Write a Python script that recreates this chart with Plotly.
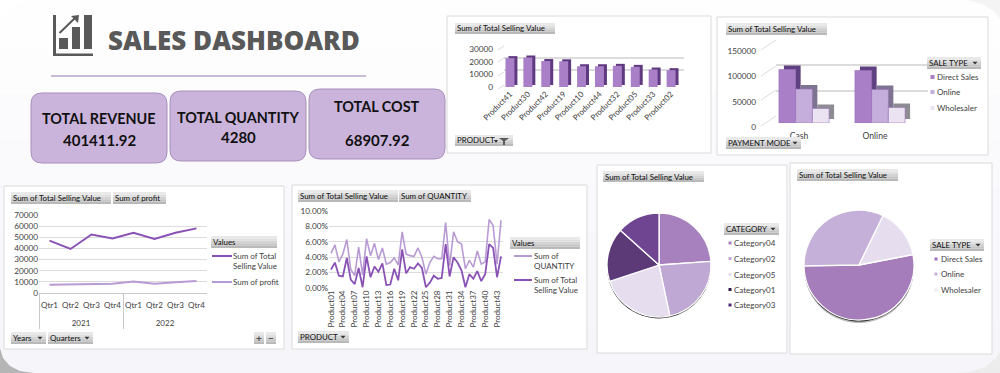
import plotly.graph_objects as go

W, H = 1000, 373

# ---------- data ----------
top_products = ["Product41", "Product30", "Product42", "Product19", "Product10",
                "Product44", "Product32", "Product05", "Product33", "Product02"]
top_values = [22800, 23300, 20500, 20300, 16400, 16400, 16700, 15900, 13800, 13300]

payment_modes = ["Cash", "Online"]
sale_types = ["Direct Sales", "Online", "Wholesaler"]
direct_sales = [107000, 105000]
online_sales = [68000, 67000]
wholesale_sales = [29000, 31000]

years = ["2021", "2021", "2021", "2021", "2022", "2022", "2022", "2022"]
quarters = ["Qtr1", "Qtr2", "Qtr3", "Qtr4", "Qtr1", "Qtr2", "Qtr3", "Qtr4"]
quarter_selling = [47000, 39500, 52500, 49000, 54000, 48500, 54000, 58000]
quarter_profit = [7500, 7700, 8300, 8300, 10300, 8300, 9700, 10800]

products = ["Product%02d" % i for i in range(1, 45)]
product_ticks = ["Product01", "Product04", "Product07", "Product10", "Product13",
                 "Product16", "Product19", "Product22", "Product25", "Product28",
                 "Product31", "Product34", "Product37", "Product40", "Product43"]
quantity_pct = [4.5, 5.6, 3.4, 4.4, 6.3, 2.4, 1.6, 5.3, 1.7, 6.4, 4.2, 5.8, 3.7, 5.2, 3.1,
                3.3, 3.9, 3.0, 7.3, 4.4, 4.2, 4.1, 5.2, 4.0, 1.8, 3.3, 4.1, 3.8, 3.8, 8.5,
                2.9, 7.3, 6.0, 5.7, 2.5, 3.6, 2.7, 4.8, 3.1, 3.4, 8.9, 8.1, 3.1, 8.8]
selling_pct = [2.4, 3.3, 1.6, 1.5, 3.9, 1.1, 0.5, 2.6, 0.1, 4.1, 1.4, 2.8, 2.1, 3.2, 0.4,
               0.45, 2.5, 1.0, 5.0, 1.9, 2.7, 2.5, 3.2, 2.6, 0.1, 0.7, 1.6, 1.2, 1.3, 5.7,
               1.5, 4.0, 3.3, 2.3, 0.1, 1.8, 1.2, 2.2, 0.9, 1.8, 5.7, 5.2, 1.4, 4.1]

categories = ["Category04", "Category02", "Category05", "Category01", "Category03"]
category_values = [95900, 91400, 93200, 67300, 53500]
sale_type_values = [212000, 130400, 59000]

# ---------- styling ----------
FONT = "Lato"
SMALL = "Lato"
TXT = "#404040"
P_MID = "#a97fc7"
P_LIGHT = "#c5aedb"
P_PALE = "#ebe2f2"
GRID = "#dcdcdc"


def X(px):
    return px / W


def Y(py):
    return 1 - py / H


shapes, annots, axes = [], [], {}
fig = go.Figure()


def rect(x0, y0, x1, y1, fill, line=None, layer="below", lw=1):
    shapes.append(dict(type="rect", xref="paper", yref="paper", x0=X(x0), x1=X(x1),
                       y0=Y(y0), y1=Y(y1), fillcolor=fill, layer=layer,
                       line=dict(color=line or fill, width=lw if line else 0)))


def seg(x0, y0, x1, y1, color, lw=1, layer="below"):
    shapes.append(dict(type="line", xref="paper", yref="paper", x0=X(x0), x1=X(x1),
                       y0=Y(y0), y1=Y(y1), layer=layer, line=dict(color=color, width=lw)))


def poly(path_pts, fill, layer="above"):
    d = "M" + " L".join("%.4f,%.4f" % (X(a), Y(b)) for a, b in path_pts) + " Z"
    shapes.append(dict(type="path", xref="paper", yref="paper", path=d, fillcolor=fill,
                       layer=layer, line=dict(width=0)))


def text(x, y, s, size=8, color=TXT, anchor="left", bold=False, family=SMALL, weight=None):
    font = dict(family=family, size=size, color=color)
    if weight:
        font["weight"] = weight
    annots.append(dict(xref="paper", yref="paper", x=X(x), y=Y(y), text="<b>%s</b>" % s if bold else s,
                       showarrow=False, xanchor=anchor, yanchor="middle", borderpad=0, borderwidth=0,
                       font=font))


def button(x0, y0, x1, y1, label, arrow=False, size=7.9):
    bands = ["#e9e9e9", "#dfdfdf", "#d3d3d3", "#c6c6c6", "#b9b9b9"]
    h = (y1 - y0) / len(bands)
    for i, c in enumerate(bands):
        rect(x0, y0 + i * h, x1, y0 + (i + 1) * h, c, layer="above")
    if label:
        text(x0 + 2, (y0 + y1) / 2, label, size=size, color="#111111")
    if arrow:
        cx, cy = x1 - 6, (y0 + y1) / 2
        poly([(cx - 2.5, cy - 1.2), (cx + 2.5, cy - 1.2), (cx, cy + 1.5)], "#333333")


def rounded(x0, y0, x1, y1, r, fill, line):
    k = r
    d = ("M%.4f,%.4f L%.4f,%.4f Q%.4f,%.4f %.4f,%.4f L%.4f,%.4f Q%.4f,%.4f %.4f,%.4f "
         "L%.4f,%.4f Q%.4f,%.4f %.4f,%.4f L%.4f,%.4f Q%.4f,%.4f %.4f,%.4f Z") % (
        X(x0 + k), Y(y0), X(x1 - k), Y(y0), X(x1), Y(y0), X(x1), Y(y0 + k),
        X(x1), Y(y1 - k), X(x1), Y(y1), X(x1 - k), Y(y1),
        X(x0 + k), Y(y1), X(x0), Y(y1), X(x0), Y(y1 - k),
        X(x0), Y(y0 + k), X(x0), Y(y0), X(x0 + k), Y(y0))
    shapes.append(dict(type="path", xref="paper", yref="paper", path=d, fillcolor=fill,
                       layer="below", line=dict(color=line, width=1)))


def panel(x0, y0, x1, y1):
    rect(x0, y0, x1, y1, "#ffffff", "#dadada")


def add_axes(n, xdom, ydom, xkw=None, ykw=None):
    """xdom/ydom are pixel extents; ydom = (top, bottom)."""
    sfx = "" if n == 1 else str(n)
    ax = dict(domain=[X(xdom[0]), X(xdom[1])], anchor="y" + sfx, showgrid=False, zeroline=False,
              showline=False, ticks="", showticklabels=False, fixedrange=True, automargin=False,
              tickfont=dict(family=SMALL, size=8, color=TXT))
    ay = dict(domain=[Y(ydom[1]), Y(ydom[0])], anchor="x" + sfx, showgrid=False, zeroline=False,
              showline=False, ticks="", showticklabels=False, fixedrange=True, automargin=False,
              tickformat="d", tickfont=dict(family=SMALL, size=8.2, color=TXT))
    ax.update(xkw or {})
    ay.update(ykw or {})
    axes["xaxis" + sfx] = ax
    axes["yaxis" + sfx] = ay
    return "x" + sfx, "y" + sfx


# ---------- page background ----------
bg_steps = ["#fefefe", "#fdfdfe", "#fbfbfd", "#fafafc", "#f9f8fc", "#f8f7fb", "#f7f6fb", "#f6f5fa"]
step = H / len(bg_steps)
for i, c in enumerate(bg_steps):
    rect(0, i * step, W, (i + 1) * step + 1, c)
poly([(0, 373), (0, 348), (3, 358), (10, 366), (20, 371), (34, 373)], "#b5b5b5", layer="below")
poly([(1000, 373), (1000, 352), (995, 359), (985, 367), (970, 372), (955, 373)], "#ececec", layer="below")
poly([(0, 0), (33, 0), (18, 4), (7, 10), (0, 19)], "#ffffff", layer="below")
poly([(1000, 0), (968, 0), (982, 4), (992, 10), (1000, 18)], "#f4f4f4", layer="below")

# ---------- header ----------
rect(53, 15, 56, 56, "#595959")
rect(53, 53.5, 93, 56, "#595959")
rect(59, 38, 68, 49, "#595959")
rect(72, 27, 80, 49, "#595959")
rect(84, 15, 92, 49, "#595959")
seg(59.5, 33, 75, 18, "#595959", 2)
poly([(71, 16), (79, 15), (78, 23)], "#595959", layer="below")
text(108, 40, "SALES DASHBOARD", size=26, color="#595959", family="Open Sans", weight=800)
seg(51, 76, 366, 76, "#b9a4cf", 1.5)

# ---------- KPI cards ----------
kpis = [(31, 93, 167, 163, "TOTAL REVENUE", 118, "401411.92", 140),
        (170, 91, 306, 161, "TOTAL QUANTITY", 117, "4280", 137),
        (309, 89, 445, 159, "TOTAL COST", 107, "68907.92", 140)]
for x0, y0, x1, y1, label, ly, value, vy in kpis:
    rounded(x0, y0, x1, y1, 11, "#cbb4db", "#a890ba")
    text((x0 + x1) / 2, ly, label, size=14.4, color="#111111", anchor="center", bold=True, family=FONT)
    text((x0 + x1) / 2, vy, value, size=15, color="#111111", anchor="center", bold=True, family=FONT)

# ---------- panels ----------
panel(447, 16, 711, 153)
panel(717, 17, 988, 155)
panel(4, 186, 284, 349)
panel(292, 185, 587, 349)
panel(597, 165, 787, 353)
panel(790, 163, 992, 354)

# ---------- chart 1: top products (pseudo 3D columns) ----------
yr1 = dict(range=[0, 30000], tickvals=[0, 10000, 20000, 30000])
xa, ya = add_axes(1, (504, 684), (45, 83), ykw=dict(yr1, showgrid=True, gridcolor=GRID, gridwidth=1.5))
fig.add_trace(go.Scatter(x=top_products, y=top_values, mode="lines", opacity=0, xaxis=xa, yaxis=ya,
                         hoverinfo="skip", showlegend=False))
xa, ya = add_axes(2, (504, 683), (47, 85), ykw=yr1)
fig.add_trace(go.Bar(x=top_products, y=top_values, marker=dict(color="#5f3a80", line=dict(width=0)),
                     xaxis=xa, yaxis=ya, showlegend=False, width=0.5))
xa, ya = add_axes(3, (501, 680), (49, 87),
                  xkw=dict(showticklabels=True, tickangle=-45),
                  ykw=dict(yr1, showticklabels=True, anchor="free", position=X(493)))
fig.add_trace(go.Bar(x=top_products, y=top_values, marker=dict(color=P_MID, line=dict(width=0)),
                     xaxis=xa, yaxis=ya, showlegend=False, width=0.5, name="Sum of Total Selling Value"))
button(455, 23, 555, 34, "Sum of Total Selling Value")
button(455, 135, 513, 146, "PRODUCT")
poly([(499, 138), (509, 138), (505, 141), (505, 145), (503, 145), (503, 141)], "#5a5a5a")
poly([(494, 140), (498, 140), (496, 143)], "#333333")
for py in (85, 72, 58, 46):
    seg(498, py + 4, 504, py, GRID, 1)

# ---------- chart 2: payment mode (pseudo 3D grouped columns) ----------
yr2 = dict(range=[0, 150000], tickvals=[0, 50000, 100000, 150000])
groups = [("Direct Sales", direct_sales, P_MID, "#5f4080"),
          ("Online", online_sales, P_LIGHT, "#7e7390"),
          ("Wholesaler", wholesale_sales, P_PALE, "#8c8c92")]
xa, ya = add_axes(4, (776, 928), (40, 116), ykw=dict(yr2, showgrid=True, gridcolor=GRID, gridwidth=1.5))
fig.add_trace(go.Scatter(x=payment_modes, y=direct_sales, mode="lines", opacity=0, xaxis=xa, yaxis=ya,
                         hoverinfo="skip", showlegend=False))
xa, ya = add_axes(5, (771, 923), (44, 119), ykw=yr2)
for name, vals, front, side in groups:
    fig.add_trace(go.Bar(x=payment_modes, y=vals, marker=dict(color=side, line=dict(width=0)),
                         xaxis=xa, yaxis=ya, showlegend=False))
xa, ya = add_axes(6, (766, 918), (48, 123), ykw=yr2)
for name, vals, front, side in groups:
    fig.add_trace(go.Bar(x=payment_modes, y=vals, name=name, xaxis=xa, yaxis=ya, showlegend=False,
                         marker=dict(color=front, line=dict(width=0.6, color="#9a72ba"))))
xa, ya = add_axes(7, (761, 913), (51, 127),
                  xkw=dict(range=[-0.5, 1.5], showticklabels=True, ticklabelstandoff=2,
                           tickfont=dict(family=SMALL, size=8.6, color=TXT)),
                  ykw=dict(yr2, showticklabels=True, anchor="free", position=X(756)))
fig.add_trace(go.Scatter(x=payment_modes, y=direct_sales, mode="lines", opacity=0, xaxis=xa, yaxis=ya,
                         hoverinfo="skip", showlegend=False))
button(726, 23, 827, 35, "Sum of Total Selling Value")
button(927, 57, 981, 69, "SALE TYPE", arrow=True)
button(726, 137, 801, 149, "PAYMENT MODE", arrow=True)
for (name, vals, front, side), py in zip(groups, (77, 92, 108)):
    rect(930.5, py - 2, 934.5, py + 2, front)
    text(937, py, name)
for py in (116, 90, 66, 40):
    seg(761, py + 10, 776, py, GRID, 1)

# ---------- chart 3: quarterly lines ----------
xa, ya = add_axes(8, (39, 207), (215, 293),
                  xkw=dict(type="multicategory", range=[-0.5, 7.5], showticklabels=True, showdividers=True,
                           dividercolor="#c9c9c9", dividerwidth=1, showline=True, linecolor="#c9c9c9",
                           tickangle=0, ticklabelstandoff=4),
                  ykw=dict(range=[0, 70000], dtick=10000, showgrid=True, gridcolor=GRID, gridwidth=1,
                           showticklabels=True))
xm = [["<br>" + y for y in years], quarters]
fig.add_trace(go.Scatter(x=xm, y=quarter_selling, mode="lines", name="Sum of Total Selling Value",
                         line=dict(color="#8a52b5", width=2), xaxis=xa, yaxis=ya, showlegend=False))
fig.add_trace(go.Scatter(x=xm, y=quarter_profit, mode="lines", name="Sum of profit",
                         line=dict(color="#b99bd4", width=2), xaxis=xa, yaxis=ya, showlegend=False))
button(11, 192, 111, 204, "Sum of Total Selling Value")
button(113, 192, 166, 204, "Sum of profit")
button(211, 236, 277, 248, "Values")
seg(212, 256, 232, 256, "#8a52b5", 2)
text(233, 256, "Sum of Total")
text(233, 266, "Selling Value")
seg(212, 282, 232, 282, "#b99bd4", 2)
text(233, 282, "Sum of profit")
button(11, 332, 46, 344, "Years", arrow=True)
button(48, 332, 93, 344, "Quarters", arrow=True)
button(254, 332, 264, 344, "")
button(266, 332, 276, 344, "")
text(259, 338, "+", size=10, anchor="center", color="#555555", bold=True, family=FONT)
text(271, 338, "−", size=10, anchor="center", color="#555555", bold=True, family=FONT)

# ---------- chart 4: products share lines ----------
xa, ya = add_axes(9, (329, 503), (211, 288),
                  xkw=dict(type="category", range=[-0.5, 43.5], showticklabels=True, tickvals=product_ticks,
                           ticktext=product_ticks, categoryorder="array", categoryarray=products, tickangle=-90),
                  ykw=dict(range=[0, 10], tickvals=[0, 2, 4, 6, 8, 10], tickformat="",
                           ticktext=["0.00%", "2.00%", "4.00%", "6.00%", "8.00%", "10.00%"],
                           showgrid=True, gridcolor=GRID, gridwidth=1, showticklabels=True))
fig.add_trace(go.Scatter(x=products, y=quantity_pct, mode="lines", name="Sum of QUANTITY",
                         line=dict(color="#b99bd4", width=1.6), xaxis=xa, yaxis=ya, showlegend=False))
fig.add_trace(go.Scatter(x=products, y=selling_pct, mode="lines", name="Sum of Total Selling Value",
                         line=dict(color="#8a52b5", width=1.8), xaxis=xa, yaxis=ya, showlegend=False))
button(298, 190, 398, 202, "Sum of Total Selling Value")
button(399, 190, 471, 202, "Sum of QUANTITY")
button(510, 237, 580, 249, "Values")
seg(514, 256, 532, 256, "#b99bd4", 2)
text(534, 256, "Sum of")
text(534, 266, "QUANTITY")
seg(514, 280, 532, 280, "#8a52b5", 2)
text(534, 280, "Sum of Total")
text(534, 290, "Selling Value")
button(298, 331, 349, 343, "PRODUCT", arrow=True)


# ---------- pies ----------
def pie(cx, cy, r, labels, values, colors, rotation, shadow):
    for dy, col in shadow:
        fig.add_trace(go.Pie(labels=labels, values=values, sort=False, direction="clockwise",
                             rotation=rotation, textinfo="none", hoverinfo="skip", showlegend=False,
                             marker=dict(colors=[col] * len(values), line=dict(width=0)),
                             domain=dict(x=[X(cx - r), X(cx + r)], y=[Y(cy + dy + r), Y(cy + dy - r)])))
    fig.add_trace(go.Pie(labels=labels, values=values, sort=False, direction="clockwise",
                         rotation=rotation, textinfo="none", showlegend=False,
                         marker=dict(colors=colors, line=dict(width=1.3, color="#ffffff")),
                         domain=dict(x=[X(cx - r), X(cx + r)], y=[Y(cy + r), Y(cy - r)])))


cat_colors = ["#a681bd", "#bfa8d3", "#e6deee", "#5c3a78", "#6f4592"]
pie(659, 265, 52, categories, category_values, cat_colors, 0, [(1.5, "#222222")])
type_colors = ["#a67dbb", "#c5b0d9", "#e6deee"]
pie(859, 265, 55, sale_types, sale_type_values, type_colors, 79, [(3, "#b8b8b8"), (1.5, "#222222")])

button(603, 171, 704, 182, "Sum of Total Selling Value")
button(724, 223, 779, 235, "CATEGORY", arrow=True)
for name, col, py in zip(categories, ["#a681bd", "#bfa8d3", "#e6deee", "#2e1a4a", "#4a2a7a"],
                         (243, 258.5, 274.5, 289.5, 305)):
    rect(728.5, py - 1.5, 731.5, py + 1.5, col)
    text(734, py, name)
button(797, 169, 898, 181, "Sum of Total Selling Value")
button(930, 239, 984, 251, "SALE TYPE", arrow=True)
for name, col, py in zip(sale_types, ["#a06fc0", "#c5aedb", "#efe9f4"], (259, 274, 290)):
    rect(934.5, py - 1.5, 937.5, py + 1.5, col)
    text(941, py, name)

fig.update_layout(template="none", width=W, height=H, margin=dict(l=0, r=0, t=0, b=0, pad=0), autosize=False,
                  paper_bgcolor="#ffffff", plot_bgcolor="rgba(0,0,0,0)", barmode="group", bargap=0.34,
                  bargroupgap=0, showlegend=False, hovermode=False, shapes=shapes, annotations=annots,
                  font=dict(family=FONT, color=TXT), **axes)
fig.write_html("out.html", config=dict(displayModeBar=False),
               post_script="document.body.style.margin='0';document.body.style.overflow='hidden';")
